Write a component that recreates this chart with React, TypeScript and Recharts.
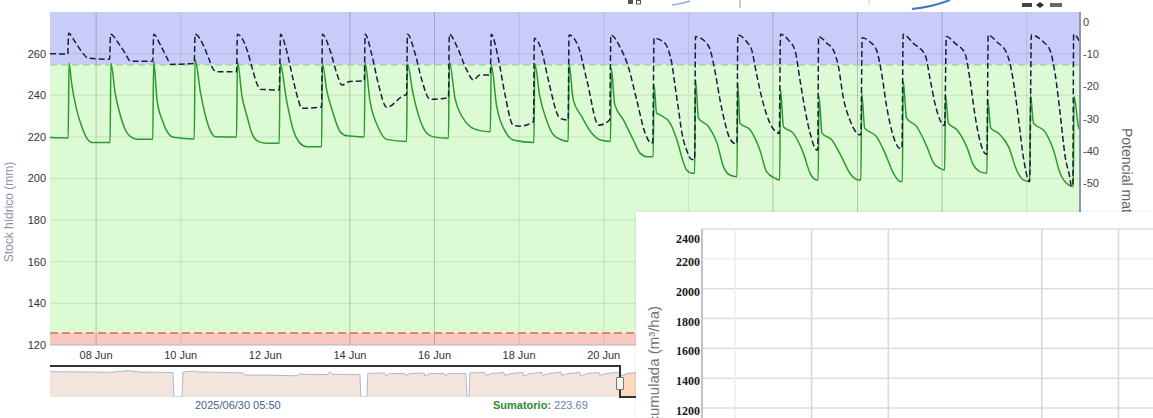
import React from 'react';
import {
  ComposedChart,
  LineChart,
  AreaChart,
  Line,
  Area,
  XAxis,
  YAxis,
  ReferenceArea,
  ReferenceLine,
} from 'recharts';

// ---------- main chart: axes ----------
const dayTicks = [8, 10, 12, 14, 16, 18, 20];
const dayLabels = ['08 Jun', '10 Jun', '12 Jun', '14 Jun', '16 Jun', '18 Jun', '20 Jun'];
const stockTicks = [120, 140, 160, 180, 200, 220, 240, 260];
const potentialTicks = [0, -10, -20, -30, -40, -50];
const gridDaysDark = [8, 14, 16, 24, 26, 28];
const gridDaysLight = [10, 18, 20, 22, 30];
const stockGridLines = [140, 160, 180, 200, 220, 240, 260];
const saturationLevel = 254.6;
const deficitLevel = 125.8;

// ---------- main chart: series (t = day of June, value) ----------
const stockSeries: [number, number][] = [
  [6.91, 219.7],
  [7.34, 219.5], [7.36, 255.4], [7.42, 245.8], [7.54, 233.0], [7.66, 225.0], [7.78, 219.4], [7.90, 217.3],
  [8.33, 217.3], [8.35, 255.4], [8.45, 241.0], [8.57, 230.6], [8.69, 223.4], [8.81, 220.1], [8.97, 218.9],
  [9.34, 218.9], [9.36, 256.2], [9.44, 237.8], [9.56, 228.2], [9.68, 222.5], [9.83, 219.8],
  [10.32, 219.0], [10.34, 257.0], [10.47, 241.0], [10.59, 229.8], [10.71, 222.5], [10.82, 220.1],
  [11.32, 220.0], [11.34, 256.2], [11.45, 239.4], [11.57, 229.8], [11.68, 221.8], [11.84, 217.7], [12.04, 216.9],
  [12.33, 216.9], [12.35, 255.5], [12.50, 237.8], [12.66, 223.4], [12.82, 217.0], [12.98, 215.3],
  [13.33, 215.3], [13.35, 255.3], [13.45, 242.6], [13.60, 231.5], [13.77, 222.5], [13.93, 220.5],
  [14.34, 220.0], [14.36, 255.6], [14.47, 237.8], [14.66, 225.0], [14.87, 218.8],
  [15.34, 217.8], [15.36, 255.0], [15.49, 241.0], [15.66, 228.0], [15.82, 221.7], [15.97, 220.0],
  [16.33, 219.3], [16.35, 256.0], [16.49, 238.0], [16.65, 229.8], [16.84, 225.0], [17.07, 223.0],
  [17.32, 222.5], [17.34, 254.6], [17.47, 234.6], [17.70, 221.7], [17.86, 218.5],
  [18.35, 217.3], [18.37, 255.0], [18.49, 239.3], [18.65, 228.0], [18.81, 221.0], [19.01, 218.5],
  [19.16, 217.8], [19.18, 255.0], [19.28, 237.8], [19.48, 229.8], [19.72, 221.7], [19.92, 218.5],
  [20.16, 217.8], [20.18, 253.0], [20.26, 235.6], [20.46, 228.4], [20.70, 218.5], [20.86, 212.2], [21.02, 210.5],
  [21.17, 210.5], [21.19, 245.0], [21.25, 231.4], [21.33, 230.6], [21.57, 226.6], [21.73, 218.6], [21.89, 207.4], [21.96, 204.1], [22.08, 202.5],
  [22.15, 202.5], [22.17, 247.4], [22.24, 229.0], [22.48, 224.9], [22.68, 217.0], [22.83, 205.7], [22.98, 201.7],
  [23.15, 200.9], [23.17, 245.8], [23.22, 226.6], [23.46, 223.4], [23.69, 213.8], [23.85, 203.3], [24.05, 200.1],
  [24.16, 199.3], [24.18, 242.6], [24.25, 224.9], [24.48, 221.8], [24.72, 212.2], [24.88, 202.5], [25.04, 199.3],
  [25.07, 199.3], [25.09, 239.4], [25.16, 221.8], [25.39, 218.6], [25.62, 210.5], [25.82, 202.5], [26.02, 199.3],
  [26.08, 199.3], [26.10, 241.0], [26.17, 224.2], [26.45, 220.1], [26.65, 212.2], [26.85, 202.5], [27.01, 198.5],
  [27.06, 198.5], [27.08, 246.6], [27.16, 229.0], [27.40, 224.9], [27.64, 215.3], [27.80, 207.4], [27.95, 204.9],
  [28.06, 204.1], [28.08, 240.2], [28.15, 226.6], [28.35, 223.4], [28.58, 215.3], [28.74, 206.5], [28.89, 203.3],
  [29.06, 202.5], [29.08, 237.8], [29.15, 224.2], [29.33, 221.8], [29.57, 215.3], [29.76, 204.1], [29.92, 199.3],
  [30.07, 198.5], [30.09, 240.2], [30.16, 226.6], [30.43, 222.5], [30.63, 213.8], [30.79, 202.5], [30.99, 196.9],
  [31.10, 196.1], [31.12, 239.4], [31.23, 224.2], [31.26, 223.5],
];

const potentialSeries: [number, number][] = [
  [6.91, -9.9], [7.33, -10.0],
  [7.35, -3.6], [7.50, -6.2], [7.66, -9.3], [7.82, -11.3], [8.32, -11.6],
  [8.34, -3.9], [8.53, -6.7], [8.69, -9.8], [8.81, -12.2], [9.34, -12.2],
  [9.36, -3.9], [9.52, -7.2], [9.68, -11.3], [9.76, -13.2], [10.32, -12.9],
  [10.34, -3.9], [10.55, -7.7], [10.66, -11.3], [10.78, -14.9], [10.86, -15.5], [11.32, -15.5],
  [11.34, -3.9], [11.57, -8.8], [11.68, -13.9], [11.80, -19.1], [11.88, -20.9], [12.33, -21.1],
  [12.36, -3.9], [12.50, -8.8], [12.66, -18.0], [12.78, -24.2], [12.86, -26.8], [13.33, -26.4],
  [13.35, -3.9], [13.53, -8.8], [13.69, -16.0], [13.81, -19.6], [14.00, -18.5], [14.34, -18.3],
  [14.36, -3.9], [14.51, -9.8], [14.67, -19.1], [14.87, -26.5], [15.30, -22.7], [15.34, -22.6],
  [15.36, -3.9], [15.54, -9.8], [15.70, -18.0], [15.89, -24.0], [16.33, -23.5],
  [16.35, -3.9], [16.53, -7.7], [16.76, -14.9], [16.92, -18.0], [17.07, -16.5], [17.32, -16.5],
  [17.34, -3.9], [17.50, -10.8], [17.66, -22.1], [17.86, -32.0], [18.02, -32.3], [18.34, -30.9],
  [18.36, -5.1], [18.53, -8.8], [18.69, -18.0], [18.97, -29.9], [19.16, -30.4],
  [19.18, -4.1], [19.40, -7.7], [19.60, -18.0], [19.88, -32.0], [20.14, -30.4],
  [20.17, -4.1], [20.38, -7.7], [20.58, -13.9], [20.78, -24.2], [20.98, -34.5], [21.13, -37.6], [21.16, -37.1],
  [21.19, -5.1], [21.41, -6.2], [21.53, -8.8], [21.61, -12.9], [21.69, -20.1], [21.77, -27.3], [21.85, -34.5], [21.96, -39.7], [22.08, -42.6], [22.15, -42.6],
  [22.17, -4.6], [22.40, -6.2], [22.52, -8.8], [22.64, -16.0], [22.75, -24.2], [22.87, -31.4], [22.98, -36.1], [23.10, -37.6], [23.15, -37.6],
  [23.17, -4.1], [23.38, -6.2], [23.50, -8.8], [23.61, -16.0], [23.77, -25.2], [23.93, -31.4], [24.13, -34.5], [24.15, -34.6],
  [24.18, -3.9], [24.37, -5.7], [24.52, -8.8], [24.64, -18.0], [24.76, -27.3], [24.88, -34.5], [25.04, -39.7], [25.06, -39.7],
  [25.08, -4.6], [25.28, -6.7], [25.43, -8.8], [25.55, -13.9], [25.66, -23.2], [25.82, -30.4], [26.06, -35.0], [26.08, -35.0],
  [26.11, -5.0], [26.29, -6.2], [26.45, -8.8], [26.57, -16.0], [26.69, -26.3], [26.85, -35.6], [27.01, -39.2], [27.05, -39.2],
  [27.08, -3.9], [27.32, -6.7], [27.60, -10.3], [27.72, -18.0], [27.83, -25.2], [27.95, -30.4], [28.03, -32.0], [28.06, -32.0],
  [28.10, -4.6], [28.31, -6.7], [28.54, -9.8], [28.66, -18.0], [28.77, -28.3], [28.89, -36.6], [29.01, -40.7], [29.06, -41.0],
  [29.09, -4.1], [29.29, -6.2], [29.53, -9.8], [29.68, -18.0], [29.80, -29.4], [29.92, -41.8], [30.04, -49.0], [30.07, -49.5],
  [30.11, -4.1], [30.39, -6.2], [30.55, -8.8], [30.67, -16.0], [30.79, -28.3], [30.91, -41.8], [31.03, -49.0], [31.05, -50.8], [31.09, -50.8],
  [31.11, -3.9], [31.23, -5.7], [31.26, -6.5],
];

// ---------- navigator (t = day relative to 1 June) ----------
const navigatorHistory: [number, number][] = [
  [-23.25, 250.6], [-21.13, 249.0], [-20.08, 247.5], [-19.12, 255.7], [-18.49, 249.0], [-16.9, 246.5], [-16.74, 246.5],
  [-16.69, 120], [-16.27, 120],
  [-16.21, 249.0], [-15.53, 254.0], [-15.42, 249.0], [-14.26, 247.5], [-13.04, 244.0], [-12.93, 233.5], [-12.03, 233.5],
  [-10.55, 230.0], [-10.13, 230.0], [-10.02, 242.0], [-9.92, 237.0], [-8.54, 236.0], [-8.44, 250.6], [-8.28, 237.0],
  [-6.95, 236.0], [-6.85, 236.0],
  [-6.8, 120], [-6.48, 120],
  [-6.43, 242.0], [-5.53, 244.0], [-5.48, 228.0], [-5.26, 242.0], [-4.47, 241.0], [-4.42, 231.0], [-4.2, 241.0],
  [-3.46, 244.0], [-3.41, 228.0], [-3.14, 241.0], [-2.4, 242.0], [-2.35, 231.0], [-2.14, 241.0], [-1.29, 241.0], [-1.24, 241.0],
  [-1.19, 120], [-1.08, 120],
  [-1.03, 244.0], [-0.24, 246.5], [-0.18, 231.0], [0.14, 241.0], [0.77, 246.5], [0.82, 231.0], [1.14, 241.0],
  [1.78, 246.5], [1.83, 228.0], [2.15, 241.0], [2.78, 246.5], [2.83, 231.0], [3.15, 241.0], [3.79, 249.0], [3.84, 231.0],
  [4.16, 241.0], [4.79, 246.5], [4.85, 228.0], [5.16, 241.0], [5.80, 246.5], [5.85, 231.0], [6.17, 241.0], [6.80, 246.5],
  [6.91, 240.0],
];
const navigatorSelected: [number, number][] = [
  [6.91, 240.0], [7.01, 231.0], [7.33, 241.0], [7.80, 246.5], [8.05, 231.0], [8.40, 241.0], [11.14, 239.0],
  [16.43, 234.0], [21.72, 228.0], [27.0, 222.0], [31.26, 222.0],
];

// ---------- overlay panel ----------
const panelTicks = [1200, 1400, 1600, 1800, 2000, 2200, 2400];
const panelGridValues = [0, 200, 400, 600, 800, 1000, 1200, 1400, 1600, 1800, 2000, 2200, 2400];
const panelGridDays = [10, 17, 31, 38];
const panelGridDaysFaint = [3];
const panelFrame = [{ d: 0 }, { d: 41.15 }];

const toRows = (pairs: [number, number][]) => pairs.map(([t, v]) => ({ t, v }));

const PanelTick = (props: any) => {
  const { x, y, payload } = props;
  const yy = Math.max(y + 7, 30.5);
  return (
    <text x={x} y={yy} textAnchor="end" fontFamily="'Liberation Serif', serif" fontSize={12} fontWeight={600} fill="#1a1a1a">
      {payload.value}
    </text>
  );
};

export default function App() {
  const stockRows = toRows(stockSeries);
  const potentialRows = toRows(potentialSeries);
  const navHistRows = toRows(navigatorHistory);
  const navSelRows = toRows(navigatorSelected);

  return (
    <div
      style={{
        position: 'absolute',
        left: 0,
        top: 0,
        width: 1153,
        height: 418,
        overflow: 'hidden',
        background: '#fff',
        fontFamily: "'Liberation Sans', Arial, sans-serif",
      }}
    >
      {/* main chart */}
      <div style={{ position: 'absolute', left: 0, top: 0 }}>
        <ComposedChart width={1153} height={418} margin={{ top: 12, right: 0, bottom: 53, left: 0 }}>
          <XAxis
            xAxisId="t"
            dataKey="t"
            type="number"
            domain={[6.91, 31.26]}
            allowDataOverflow
            ticks={dayTicks}
            interval={0}
            tickFormatter={(v: number) => dayLabels[dayTicks.indexOf(v)] ?? ''}
            height={20}
            tickLine={false}
            tickSize={0}
            tickMargin={6}
            axisLine={{ stroke: '#b5b5b5' }}
            tick={{ fontSize: 11, fill: '#333' }}
          />
          <YAxis
            yAxisId="stock"
            type="number"
            domain={[120, 280]}
            allowDataOverflow
            ticks={stockTicks}
            width={50}
            tickLine={false}
            tickSize={0}
            tickMargin={4}
            axisLine={false}
            tick={{ fontSize: 11, fill: '#333' }}
          />
          <YAxis
            yAxisId="pot"
            orientation="right"
            type="number"
            domain={[-100, 3]}
            allowDataOverflow
            ticks={potentialTicks}
            width={73}
            tickLine={false}
            tickSize={0}
            tickMargin={3}
            axisLine={{ stroke: '#8e94b0', strokeWidth: 2 }}
            tick={{ fontSize: 11, fill: '#444' }}
          />
          <ReferenceArea xAxisId="t" yAxisId="stock" y1={saturationLevel} y2={280} fill="#c8ccf9" fillOpacity={1} stroke="none" />
          <ReferenceArea xAxisId="t" yAxisId="stock" y1={deficitLevel} y2={saturationLevel} fill="#dcfbd5" fillOpacity={1} stroke="none" />
          <ReferenceArea xAxisId="t" yAxisId="stock" y1={120} y2={deficitLevel} fill="#f9c8c0" fillOpacity={1} stroke="none" />
          {stockGridLines.map((v) => (
            <ReferenceLine key={'h' + v} xAxisId="t" yAxisId="stock" y={v} stroke="rgba(40,60,40,0.12)" strokeWidth={1} />
          ))}
          {gridDaysDark.map((d) => (
            <ReferenceLine key={'vd' + d} xAxisId="t" yAxisId="stock" x={d} stroke="rgba(40,60,40,0.26)" strokeWidth={1} />
          ))}
          {gridDaysLight.map((d) => (
            <ReferenceLine key={'vl' + d} xAxisId="t" yAxisId="stock" x={d} stroke="rgba(40,60,40,0.12)" strokeWidth={1} />
          ))}
          <ReferenceLine xAxisId="t" yAxisId="stock" y={saturationLevel} stroke="#92d392" strokeDasharray="7 4" strokeWidth={1.2} />
          <ReferenceLine xAxisId="t" yAxisId="stock" y={deficitLevel} stroke="#e2684a" strokeDasharray="8 4" strokeWidth={1.5} />
          <Line
            xAxisId="t"
            yAxisId="stock"
            data={stockRows}
            dataKey="v"
            type="monotone"
            stroke="#2c9a2c"
            strokeWidth={1.5}
            dot={false}
            activeDot={false}
            isAnimationActive={false}
          />
          <Line
            xAxisId="t"
            yAxisId="pot"
            data={potentialRows}
            dataKey="v"
            type="monotone"
            stroke="#1c1c3e"
            strokeWidth={1.5}
            strokeDasharray="6 3"
            dot={false}
            activeDot={false}
            isAnimationActive={false}
          />
        </ComposedChart>
      </div>

      {/* axis titles and clipped header remnants */}
      <svg width={1153} height={418} style={{ position: 'absolute', left: 0, top: 0, pointerEvents: 'none' }}>
        <text x={13} y={212} transform="rotate(-90 13 212)" textAnchor="middle" fontSize={12} fill="#8a93a8">
          Stock hídrico (mm)
        </text>
        <text x={1122} y={128} transform="rotate(90 1122 128)" textAnchor="start" fontSize={14} fill="#666">
          Potencial matricial (kPa)
        </text>
        <rect x={628} y={0} width={5} height={4} fill="#555" />
        <rect x={636.5} y={0.5} width={4} height={3.5} fill="none" stroke="#555" />
        <path d="M672 5 Q681 4 690 1" stroke="#8ab0dc" strokeWidth={1.5} fill="none" />
        <line x1={740} y1={0} x2={740} y2={8} stroke="#999" />
        <line x1={869} y1={0} x2={869} y2={5} stroke="#ccc" />
        <path d="M912 9 Q932 7 950 0" stroke="#3a78c8" strokeWidth={2} fill="none" />
        <rect x={1022} y={3} width={10} height={4} fill="#444" />
        <path d="M1036 5 L1040 2 L1044 5 L1040 8 Z" fill="#333" />
        <rect x={1050} y={3} width={12} height={4} fill="#666" />
      </svg>

      {/* navigator */}
      <div style={{ position: 'absolute', left: 50, top: 366, width: 1030, height: 31 }}>
        <AreaChart width={1030} height={31} margin={{ top: 0, right: 0, bottom: 0, left: 0 }}>
          <XAxis dataKey="t" type="number" domain={[-23.25, 31.26]} allowDataOverflow hide />
          <YAxis type="number" domain={[120, 280]} allowDataOverflow hide />
          <Area
            data={navHistRows}
            dataKey="v"
            type="linear"
            stroke="#a9b8d4"
            strokeWidth={1}
            fill="#f4e5dc"
            fillOpacity={1}
            dot={false}
            activeDot={false}
            isAnimationActive={false}
          />
          <Area
            data={navSelRows}
            dataKey="v"
            type="linear"
            stroke="#a9b8d4"
            strokeWidth={1}
            fill="#fcd9be"
            fillOpacity={1}
            dot={false}
            activeDot={false}
            isAnimationActive={false}
          />
        </AreaChart>
      </div>
      <div style={{ position: 'absolute', left: 50, top: 365, width: 570, height: 2, background: '#333' }} />
      <div style={{ position: 'absolute', left: 619, top: 365, width: 2, height: 33, background: '#333' }} />
      <div style={{ position: 'absolute', left: 619, top: 396, width: 534, height: 2, background: '#333' }} />
      <div
        style={{
          position: 'absolute',
          left: 616,
          top: 377,
          width: 6,
          height: 11,
          background: '#f2f2f2',
          border: '1px solid #777',
          borderRadius: 1,
        }}
      />
      <div style={{ position: 'absolute', left: 195, top: 399, fontSize: 11, color: '#4a5f8e', whiteSpace: 'nowrap' }}>
        2025/06/30 05:50
      </div>
      <div style={{ position: 'absolute', left: 493, top: 399, fontSize: 11, whiteSpace: 'nowrap' }}>
        <span style={{ color: '#2e8b2e', fontWeight: 'bold' }}>Sumatorio:</span>
        <span style={{ color: '#6a80b0' }}> 223.69</span>
      </div>

      {/* overlay panel (second chart) */}
      <div
        style={{
          position: 'absolute',
          left: 636,
          top: 212,
          width: 517,
          height: 206,
          background: '#fff',
          overflow: 'hidden',
          boxShadow: '0 0 3px rgba(0,0,0,0.12)',
        }}
      >
        <LineChart width={517} height={420} data={panelFrame} margin={{ top: 17, right: 0, bottom: 45, left: 0 }}>
          <XAxis dataKey="d" type="number" domain={[0, 41.15]} allowDataOverflow hide />
          <YAxis
            type="number"
            domain={[0, 2400]}
            allowDataOverflow
            ticks={panelTicks}
            width={66}
            tickLine={false}
            tickSize={0}
            tickMargin={2}
            axisLine={{ stroke: '#c4c4c4', strokeWidth: 2 }}
            tick={<PanelTick />}
          />
          {panelGridValues.map((v) => (
            <ReferenceLine key={'ph' + v} y={v} stroke={v === 2200 ? '#efefef' : '#dedede'} strokeWidth={1.5} />
          ))}
          {panelGridDaysFaint.map((d) => (
            <ReferenceLine key={'pf' + d} x={d} stroke="#eeeeee" strokeWidth={1.5} />
          ))}
          {panelGridDays.map((d) => (
            <ReferenceLine key={'pv' + d} x={d} stroke="#d8d8d8" strokeWidth={1.5} />
          ))}
        </LineChart>
        <svg width={60} height={206} style={{ position: 'absolute', left: 0, top: 0, pointerEvents: 'none' }}>
          <text x={23} y={94} transform="rotate(-90 23 94)" textAnchor="end" fontSize={15} fill="#777">
            Agua acumulada (m³/ha)
          </text>
        </svg>
      </div>
    </div>
  );
}
